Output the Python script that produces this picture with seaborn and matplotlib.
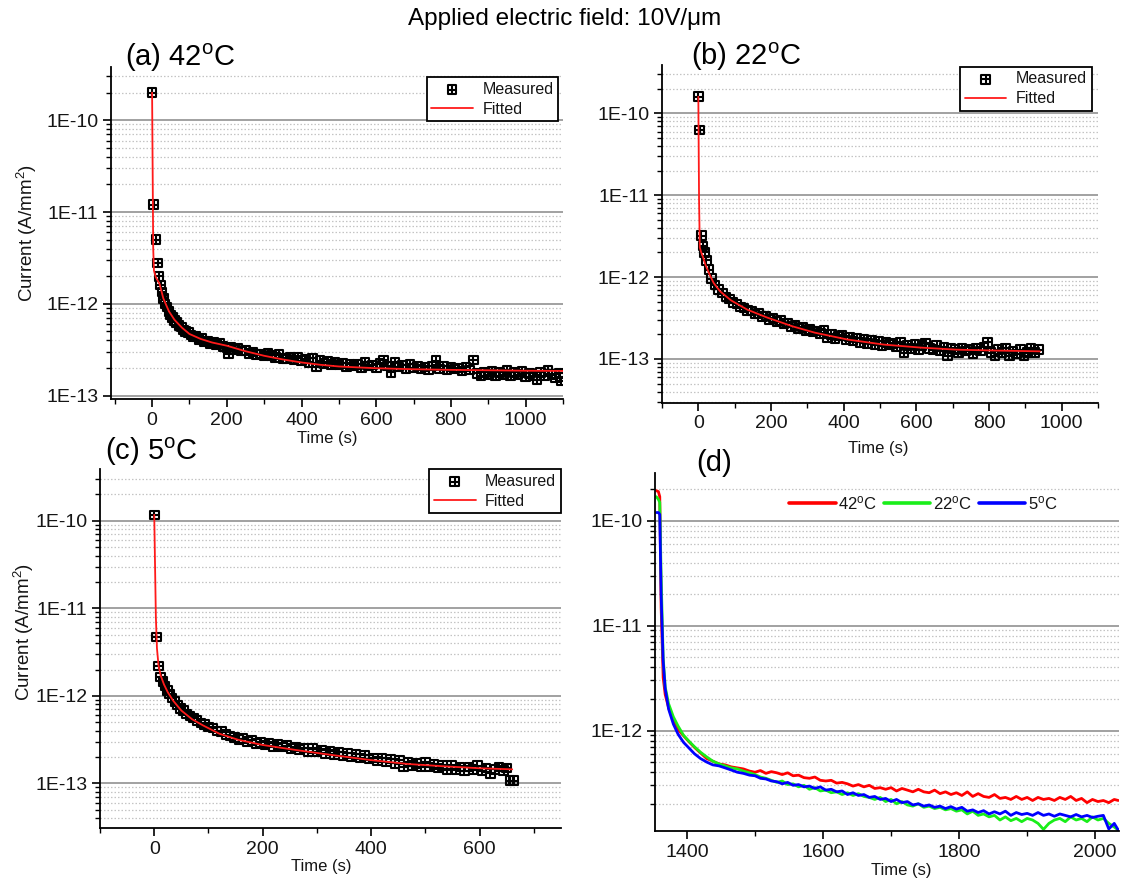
import numpy as np
import pandas as pd
import matplotlib
matplotlib.use("Agg")
import matplotlib.pyplot as plt
from matplotlib.path import Path
from matplotlib.ticker import LogLocator, FuncFormatter, NullFormatter, MultipleLocator
import seaborn as sns

# ---------------- data ----------------
# (a) 42 C
t_a_meas = [0, 4, 10, 15, 19, 23, 27, 31, 35, 40, 45, 50, 55, 60, 66, 72, 78, 84, 90, 97,
            104, 111, 118, 125, 132, 140, 148, 156, 164, 172, 180, 190, 200, 205, 210, 220, 230, 240, 250, 260,
            270, 280, 290, 300, 310, 320, 330, 340, 350, 360, 370, 380, 390, 400, 410, 420, 430, 440, 450, 460,
            470, 480, 490, 500, 510, 520, 530, 540, 550, 560, 570, 580, 590, 600, 610, 620, 630, 640, 650, 660,
            670, 680, 690, 700, 710, 720, 730, 740, 750, 760, 770, 780, 790, 800, 810, 820, 830, 840, 850, 860,
            870, 880, 890, 900, 910, 920, 930, 940, 950, 960, 970, 980, 990, 1000, 1010, 1020, 1030, 1040, 1050, 1060,
            1070, 1080, 1090, 1095]
i_a_meas = [2.0e-10, 1.2e-11, 5.0e-12, 2.8e-12, 2.0e-12, 1.6e-12, 1.35e-12, 1.15e-12, 1.0e-12, 9.2e-13,
            8.2e-13, 7.6e-13, 7.1e-13, 6.6e-13, 6.3e-13, 5.8e-13, 5.6e-13, 5.2e-13, 5.0e-13, 4.9e-13,
            4.6e-13, 4.4e-13, 4.4e-13, 4.1e-13, 4.2e-13, 3.9e-13, 3.95e-13, 3.7e-13, 3.8e-13, 3.6e-13,
            3.7e-13, 3.45e-13, 3.3e-13, 2.85e-13, 3.4e-13, 3.2e-13, 3.3e-13, 3.05e-13, 3.1e-13, 2.9e-13,
            3.0e-13, 2.8e-13, 2.85e-13, 2.7e-13, 2.9e-13, 2.75e-13, 2.6e-13, 2.8e-13, 2.55e-13, 2.5e-13,
            2.65e-13, 2.45e-13, 2.6e-13, 2.4e-13, 2.5e-13, 2.3e-13, 2.55e-13, 2.05e-13, 2.4e-13, 2.25e-13,
            2.35e-13, 2.2e-13, 2.3e-13, 2.15e-13, 2.25e-13, 2.05e-13, 2.2e-13, 2.1e-13, 2.2e-13, 2.0e-13,
            2.3e-13, 2.1e-13, 2.15e-13, 2.0e-13, 2.25e-13, 2.45e-13, 2.1e-13, 1.8e-13, 2.3e-13, 2.05e-13,
            2.15e-13, 1.95e-13, 2.2e-13, 2.0e-13, 2.1e-13, 1.95e-13, 2.05e-13, 1.9e-13, 2.1e-13, 2.4e-13,
            1.95e-13, 2.1e-13, 1.9e-13, 2.05e-13, 1.95e-13, 2.0e-13, 1.85e-13, 2.05e-13, 1.9e-13, 2.45e-13,
            1.75e-13, 1.65e-13, 1.8e-13, 1.7e-13, 1.85e-13, 1.65e-13, 1.8e-13, 1.7e-13, 1.9e-13, 1.65e-13,
            1.8e-13, 1.7e-13, 1.85e-13, 1.6e-13, 1.75e-13, 1.65e-13, 1.5e-13, 1.8e-13, 1.65e-13, 1.9e-13,
            1.7e-13, 1.55e-13, 1.75e-13, 1.45e-13]
t_a_fit = [0, 3, 5, 10, 20, 30, 45, 60, 80, 100, 130, 160, 200, 250, 300, 350, 400, 450, 500,
           600, 700, 800, 900, 1000, 1100]
i_a_fit = [2.0e-10, 4.0e-12, 2.3e-12, 1.95e-12, 1.65e-12, 1.15e-12, 8.3e-13, 6.7e-13, 5.5e-13, 4.7e-13,
           4.15e-13, 3.8e-13, 3.5e-13, 3.05e-13, 2.72e-13, 2.48e-13, 2.3e-13, 2.17e-13, 2.08e-13,
           1.99e-13, 1.94e-13, 1.91e-13, 1.89e-13, 1.87e-13, 1.86e-13]

# (b) 22 C
t_b_meas = [0, 3.6, 8, 13, 17, 22, 29, 36, 46, 56, 66, 76, 86, 96, 106, 116, 126, 136, 146, 156,
            166, 176, 186, 196, 206, 216, 226, 236, 246, 256, 266, 276, 286, 296, 306, 316, 326, 336, 346, 356,
            366, 376, 386, 396, 406, 416, 426, 436, 446, 456, 466, 476, 486, 496, 506, 516, 526, 536, 546, 556,
            566, 576, 586, 596, 606, 616, 626, 636, 646, 656, 666, 676, 686, 696, 706, 716, 726, 736, 746, 756,
            766, 776, 786, 796, 806, 816, 826, 836, 846, 856, 866, 876, 886, 896, 906, 916, 926, 936]
i_b_meas = [1.6e-10, 6.3e-11, 3.2e-12, 2.4e-12, 2.0e-12, 1.6e-12, 1.23e-12, 9.6e-13, 8.0e-13, 7.1e-13,
            6.4e-13, 5.7e-13, 5.4e-13, 4.9e-13, 4.7e-13, 4.3e-13, 4.2e-13, 3.9e-13, 3.85e-13, 3.55e-13,
            3.6e-13, 3.3e-13, 3.35e-13, 3.05e-13, 3.15e-13, 2.85e-13, 2.95e-13, 2.7e-13, 2.75e-13, 2.5e-13,
            2.6e-13, 2.35e-13, 2.45e-13, 2.2e-13, 2.3e-13, 2.15e-13, 2.2e-13, 2.05e-13, 2.25e-13, 1.8e-13,
            2.0e-13, 1.75e-13, 1.9e-13, 1.95e-13, 1.7e-13, 1.85e-13, 1.65e-13, 1.8e-13, 1.6e-13, 1.75e-13,
            1.55e-13, 1.7e-13, 1.5e-13, 1.65e-13, 1.45e-13, 1.6e-13, 1.5e-13, 1.55e-13, 1.4e-13, 1.6e-13,
            1.2e-13, 1.45e-13, 1.35e-13, 1.5e-13, 1.3e-13, 1.45e-13, 1.55e-13, 1.35e-13, 1.3e-13, 1.45e-13,
            1.25e-13, 1.4e-13, 1.1e-13, 1.35e-13, 1.3e-13, 1.2e-13, 1.35e-13, 1.25e-13, 1.3e-13, 1.15e-13,
            1.35e-13, 1.25e-13, 1.4e-13, 1.6e-13, 1.2e-13, 1.1e-13, 1.3e-13, 1.2e-13, 1.35e-13, 1.1e-13,
            1.25e-13, 1.15e-13, 1.3e-13, 1.1e-13, 1.2e-13, 1.35e-13, 1.2e-13, 1.3e-13]
t_b_fit = [0, 2, 4, 8, 13, 20, 30, 42, 60, 90, 135, 190, 260, 320, 410, 510, 610, 710, 810, 940]
i_b_fit = [1.6e-10, 8.7e-12, 2.3e-12, 2.0e-12, 1.75e-12, 1.4e-12, 1.1e-12, 8.5e-13, 6.7e-13, 5.2e-13,
           4.0e-13, 3.2e-13, 2.5e-13, 2.1e-13, 1.73e-13, 1.5e-13, 1.38e-13, 1.3e-13, 1.27e-13, 1.24e-13]

# (c) 5 C
t_c_meas = [0, 4, 8, 12, 16, 20, 24, 28, 33, 38, 43, 48, 54, 60, 66, 72, 79, 86, 93, 100,
            108, 116, 124, 132, 140, 148, 156, 164, 172, 180, 188, 196, 204, 212, 220, 228, 236, 244, 252, 260,
            268, 276, 284, 292, 300, 308, 316, 324, 332, 340, 348, 356, 364, 372, 380, 388, 396, 404, 412, 420,
            428, 436, 444, 452, 460, 468, 476, 484, 492, 500, 508, 516, 524, 532, 540, 548, 556, 564, 572, 580,
            588, 596, 604, 612, 620, 628, 636, 644, 650, 656, 662]
i_c_meas = [1.17e-10, 4.7e-12, 2.2e-12, 1.65e-12, 1.45e-12, 1.3e-12, 1.15e-12, 1.05e-12, 9.5e-13, 8.6e-13,
            7.9e-13, 7.2e-13, 6.8e-13, 6.2e-13, 5.9e-13, 5.6e-13, 5.2e-13, 4.9e-13, 4.7e-13, 4.4e-13,
            4.3e-13, 3.95e-13, 3.9e-13, 3.6e-13, 3.5e-13, 3.35e-13, 3.2e-13, 3.25e-13, 3.0e-13, 3.1e-13,
            2.85e-13, 2.95e-13, 2.75e-13, 2.9e-13, 2.65e-13, 2.8e-13, 2.6e-13, 2.7e-13, 2.5e-13, 2.6e-13,
            2.45e-13, 2.55e-13, 2.3e-13, 2.5e-13, 2.3e-13, 2.4e-13, 2.2e-13, 2.35e-13, 2.15e-13, 2.3e-13,
            2.05e-13, 2.2e-13, 2.0e-13, 2.15e-13, 1.95e-13, 2.1e-13, 1.9e-13, 1.95e-13, 1.8e-13, 1.95e-13,
            1.75e-13, 1.9e-13, 1.7e-13, 1.85e-13, 1.55e-13, 1.75e-13, 1.6e-13, 1.7e-13, 1.55e-13, 1.75e-13,
            1.55e-13, 1.65e-13, 1.5e-13, 1.6e-13, 1.45e-13, 1.6e-13, 1.45e-13, 1.55e-13, 1.4e-13, 1.55e-13,
            1.45e-13, 1.6e-13, 1.4e-13, 1.5e-13, 1.3e-13, 1.45e-13, 1.55e-13, 1.4e-13, 1.5e-13, 1.08e-13,
            1.08e-13]
t_c_fit = [0, 3, 5, 8, 12, 18, 25, 35, 50, 70, 90, 120, 155, 200, 263, 331, 399, 467, 534, 602, 660]
i_c_fit = [1.17e-10, 8.0e-12, 3.5e-12, 2.2e-12, 1.7e-12, 1.35e-12, 1.1e-12, 8.8e-13, 6.8e-13, 5.4e-13,
           4.6e-13, 3.7e-13, 3.15e-13, 2.75e-13, 2.4e-13, 2.1e-13, 1.85e-13, 1.67e-13, 1.57e-13, 1.49e-13,
           1.45e-13]

# (d) comparison
t_d = [1355, 1358, 1360, 1362, 1365, 1368, 1373, 1380, 1387, 1395, 1403, 1411, 1420, 1429, 1438, 1447,
       1456, 1465, 1474, 1483, 1492,
       1500, 1508, 1516, 1524, 1532, 1540, 1548, 1556, 1564, 1572, 1580, 1588, 1596, 1604, 1612, 1620,
       1628, 1636, 1644, 1652, 1660, 1668, 1676, 1684, 1692, 1700, 1708, 1716, 1724, 1732, 1740, 1748,
       1756, 1764, 1772, 1780, 1788, 1796, 1804, 1812, 1820, 1828, 1836, 1844, 1852, 1860, 1868, 1876,
       1884, 1892, 1900, 1908, 1916, 1924, 1932, 1940, 1948, 1956, 1964, 1972, 1980, 1988, 1996, 2004,
       2012, 2020, 2028, 2034]
i_d_42 = [1.94e-10, 1.9e-10, 1.7e-10, 1.5e-11, 3.2e-12, 2.2e-12, 1.65e-12, 1.25e-12, 1.02e-12, 8.9e-13,
          7.8e-13, 6.9e-13, 6.1e-13, 5.4e-13, 5.1e-13, 4.8e-13, 4.7e-13, 4.5e-13, 4.4e-13, 4.3e-13, 4.1e-13,
          4.0e-13, 4.15e-13, 3.9e-13, 4.05e-13, 3.95e-13, 3.8e-13, 3.95e-13, 3.7e-13, 3.75e-13, 3.55e-13,
          3.5e-13, 3.6e-13, 3.35e-13, 3.3e-13, 3.35e-13, 3.15e-13, 3.2e-13, 3.1e-13, 2.95e-13, 3.05e-13,
          2.9e-13, 3.0e-13, 2.8e-13, 2.85e-13, 2.75e-13, 2.85e-13, 2.65e-13, 2.8e-13, 2.7e-13, 2.6e-13,
          2.75e-13, 2.6e-13, 2.55e-13, 2.7e-13, 2.5e-13, 2.6e-13, 2.45e-13, 2.55e-13, 2.4e-13, 2.6e-13,
          2.35e-13, 2.5e-13, 2.35e-13, 2.3e-13, 2.45e-13, 2.25e-13, 2.3e-13, 2.2e-13, 2.35e-13, 2.2e-13,
          2.3e-13, 2.15e-13, 2.3e-13, 2.2e-13, 2.25e-13, 2.15e-13, 2.3e-13, 2.2e-13, 2.35e-13, 2.15e-13,
          2.25e-13, 2.05e-13, 2.2e-13, 2.1e-13, 2.15e-13, 2.05e-13, 2.2e-13, 2.15e-13]
i_d_22 = [1.7e-10, 1.6e-10, 1.5e-10, 3.0e-11, 5.0e-12, 2.6e-12, 1.8e-12, 1.35e-12, 1.1e-12, 9.0e-13,
          7.9e-13, 7.0e-13, 6.2e-13, 5.6e-13, 5.1e-13, 4.8e-13, 4.6e-13, 4.4e-13, 4.3e-13, 4.1e-13, 3.95e-13,
          3.8e-13, 3.6e-13, 3.5e-13, 3.35e-13, 3.2e-13, 3.3e-13, 3.05e-13, 3.1e-13, 2.9e-13, 3.0e-13,
          2.75e-13, 2.85e-13, 2.65e-13, 2.7e-13, 2.55e-13, 2.6e-13, 2.45e-13, 2.55e-13, 2.4e-13, 2.5e-13,
          2.35e-13, 2.3e-13, 2.2e-13, 2.3e-13, 2.1e-13, 2.2e-13, 2.0e-13, 2.1e-13, 1.95e-13, 1.9e-13,
          2.0e-13, 1.85e-13, 1.9e-13, 1.8e-13, 1.85e-13, 1.75e-13, 1.8e-13, 1.7e-13, 1.75e-13, 1.6e-13,
          1.7e-13, 1.55e-13, 1.6e-13, 1.5e-13, 1.55e-13, 1.4e-13, 1.5e-13, 1.38e-13, 1.45e-13, 1.35e-13,
          1.45e-13, 1.4e-13, 1.3e-13, 1.14e-13, 1.3e-13, 1.4e-13, 1.45e-13, 1.35e-13, 1.5e-13, 1.4e-13,
          1.45e-13, 1.35e-13, 1.5e-13, 1.4e-13, 1.45e-13, 1.3e-13, 1.2e-13, 1.12e-13]
i_d_5 = [1.2e-10, 1.2e-10, 1.15e-10, 2.0e-11, 4.6e-12, 2.5e-12, 1.6e-12, 1.15e-12, 9.2e-13, 7.7e-13,
         6.8e-13, 6.0e-13, 5.4e-13, 5.0e-13, 4.7e-13, 4.6e-13, 4.4e-13, 4.2e-13, 4.0e-13, 3.9e-13, 3.75e-13,
         3.7e-13, 3.5e-13, 3.45e-13, 3.3e-13, 3.25e-13, 3.1e-13, 3.2e-13, 3.0e-13, 3.05e-13, 2.9e-13,
         2.95e-13, 2.8e-13, 2.9e-13, 2.7e-13, 2.75e-13, 2.6e-13, 2.65e-13, 2.45e-13, 2.55e-13, 2.4e-13,
         2.45e-13, 2.3e-13, 2.35e-13, 2.2e-13, 2.25e-13, 2.1e-13, 2.2e-13, 2.05e-13, 2.1e-13, 1.95e-13,
         2.0e-13, 1.9e-13, 1.95e-13, 1.85e-13, 1.9e-13, 1.8e-13, 1.88e-13, 1.78e-13, 1.85e-13, 1.7e-13,
         1.75e-13, 1.65e-13, 1.72e-13, 1.6e-13, 1.68e-13, 1.6e-13, 1.7e-13, 1.55e-13, 1.65e-13, 1.58e-13,
         1.62e-13, 1.55e-13, 1.65e-13, 1.55e-13, 1.6e-13, 1.52e-13, 1.6e-13, 1.55e-13, 1.5e-13, 1.58e-13,
         1.5e-13, 1.55e-13, 1.48e-13, 1.52e-13, 1.55e-13, 1.15e-13, 1.3e-13, 1.12e-13]

panel_titles = ["(a) 42$^{\\rm o}$C", "(b) 22$^{\\rm o}$C", "(c) 5$^{\\rm o}$C", "(d)"]
series_d_labels = ["42$^{\\rm o}$C", "22$^{\\rm o}$C", "5$^{\\rm o}$C"]
suptitle = "Applied electric field: 10V/\u03bcm"
xlabel = "Time (s)"
ylabel = "Current (A/mm$^2$)"

# ---------------- style ----------------
sns.set_style("ticks")
plt.rcParams["font.family"] = ["Liberation Sans", "DejaVu Sans"]
plt.rcParams["mathtext.fontset"] = "custom"
plt.rcParams["mathtext.rm"] = "Liberation Sans"
plt.rcParams["mathtext.it"] = "Liberation Sans:italic"
plt.rcParams["mathtext.bf"] = "Liberation Sans:bold"
plt.rcParams["axes.linewidth"] = 1.2

TXT = "#151515"

fig = plt.figure(figsize=(11.23, 8.88), dpi=100)
W, H = 1123.0, 888.0


def axes_px(left, right, top, bottom):
    return fig.add_axes([left / W, 1 - bottom / H, (right - left) / W, (bottom - top) / H])


ax_a = axes_px(111, 563, 67, 399)
ax_b = axes_px(662, 1098, 65, 403)
ax_c = axes_px(100, 561, 469, 828)
ax_d = axes_px(655, 1119, 473, 831)

# square-with-cross marker (Origin style)
marker_path = Path(
    [(-1, -1), (1, -1), (1, 1), (-1, 1), (-1, -1), (-1, 0), (1, 0), (0, -1), (0, 1)],
    [Path.MOVETO, Path.LINETO, Path.LINETO, Path.LINETO, Path.CLOSEPOLY,
     Path.MOVETO, Path.LINETO, Path.MOVETO, Path.LINETO],
)

fmt_e = FuncFormatter(lambda v, p: "1E{:d}".format(int(round(np.log10(v)))))


def style_axes(ax, xlim, ylim, xmajor, xminor):
    ax.set_yscale("log")
    ax.set_xlim(*xlim)
    ax.set_ylim(*ylim)
    ax.xaxis.set_major_locator(MultipleLocator(xmajor))
    ax.xaxis.set_minor_locator(MultipleLocator(xminor))
    ax.yaxis.set_major_locator(LogLocator(base=10, numticks=20))
    ax.yaxis.set_minor_locator(LogLocator(base=10, subs=np.arange(2, 10), numticks=20))
    ax.yaxis.set_major_formatter(fmt_e)
    ax.yaxis.set_minor_formatter(NullFormatter())
    for s in ["top", "right"]:
        ax.spines[s].set_visible(False)
    for s in ["left", "bottom"]:
        ax.spines[s].set_color("#000000")
        ax.spines[s].set_linewidth(1.3)
    ax.tick_params(axis="both", which="major", direction="out", length=6, width=1.2,
                   labelsize=14, colors="#000000", labelcolor=TXT, pad=3)
    ax.tick_params(axis="both", which="minor", direction="out", length=3.5, width=1.0,
                   colors="#000000")
    ax.set_axisbelow(True)
    ax.yaxis.grid(True, which="major", color="#9a9a9a", lw=1.3, ls="-")
    ax.yaxis.grid(True, which="minor", color="#c4c4c4", lw=0.9, ls=(0, (1.2, 1.6)))
    ax.xaxis.grid(False)
    ax.set_facecolor("white")


def fit_panel(ax, tm, im, tf, iff, legend_anchor):
    sns.scatterplot(x=tm, y=im, ax=ax, marker=marker_path, s=38, color="black",
                    facecolor="none", edgecolor="black", linewidth=1.5, label="Measured",
                    legend=False, zorder=3)
    sns.lineplot(x=tf, y=iff, ax=ax, color="#ff1a1a", lw=1.3, estimator=None, sort=False,
                 label="Fitted", legend=False, zorder=4)
    leg = ax.legend(loc="upper right", bbox_to_anchor=legend_anchor, frameon=True,
                    fancybox=False, framealpha=1, edgecolor="black", fontsize=11.5,
                    handlelength=2.6, handletextpad=0.6, borderpad=0.3, labelspacing=0.3,
                    borderaxespad=0.0)
    leg.get_frame().set_linewidth(1.3)
    for t in leg.get_texts():
        t.set_color(TXT)


style_axes(ax_a, (-110, 1100), (9.2e-14, 3.8e-10), 200, 100)
style_axes(ax_b, (-100, 1100), (2.9e-14, 3.9e-10), 200, 100)
style_axes(ax_c, (-100, 750), (3.1e-14, 3.9e-10), 200, 100)
style_axes(ax_d, (1353, 2035), (1.1e-13, 2.86e-10), 200, 100)

fit_panel(ax_a, t_a_meas, i_a_meas, t_a_fit, i_a_fit, (0.99, 0.97))
fit_panel(ax_b, t_b_meas, i_b_meas, t_b_fit, i_b_fit, (0.986, 0.995))
fit_panel(ax_c, t_c_meas, i_c_meas, t_c_fit, i_c_fit, (1.0, 1.0))

d_colors = ["#ff0000", "#19ee19", "#0000ff"]
for vals, lab, col in zip([i_d_42, i_d_22, i_d_5], series_d_labels, d_colors):
    sns.lineplot(x=t_d, y=vals, ax=ax_d, color=col, lw=2.0, estimator=None, sort=False,
                 label=lab, legend=False)
leg_d = ax_d.legend(loc="center", bbox_to_anchor=(0.578, 0.916), ncol=3, frameon=True,
                    fancybox=False, framealpha=1, edgecolor="white", facecolor="white",
                    fontsize=12, handlelength=2.8, handletextpad=0.15, columnspacing=0.4,
                    borderpad=0.2)
for line in leg_d.get_lines():
    line.set_linewidth(2.6)
for t in leg_d.get_texts():
    t.set_color(TXT)

# axis labels
for ax, xc, yc in [(ax_a, 0.478, -0.12), (ax_b, 0.495, -0.134),
                   (ax_c, 0.48, -0.108), (ax_d, 0.53, -0.11)]:
    ax.set_xlabel(xlabel, fontsize=12, color=TXT)
    ax.xaxis.set_label_coords(xc, yc)
    ax.xaxis.label.set_va("center")
for ax, xc, yc in [(ax_a, -0.185, 0.50), (ax_c, -0.165, 0.546)]:
    ax.set_ylabel(ylabel, fontsize=13.5, color=TXT)
    ax.yaxis.set_label_coords(xc, yc)
    ax.yaxis.label.set_va("center")
ax_b.set_ylabel("")
ax_d.set_ylabel("")

# panel titles and figure title
for txt, x, y in zip(panel_titles, [125, 691, 105, 696], [58, 57, 452, 463]):
    fig.text(x / W, 1 - y / H, txt, fontsize=21, color="#000000", ha="left", va="center")
fig.text(565 / W, 1 - 19 / H, suptitle, fontsize=17.5, color="#000000", ha="center", va="center")

fig.savefig("out.png", dpi=100, facecolor="white")
